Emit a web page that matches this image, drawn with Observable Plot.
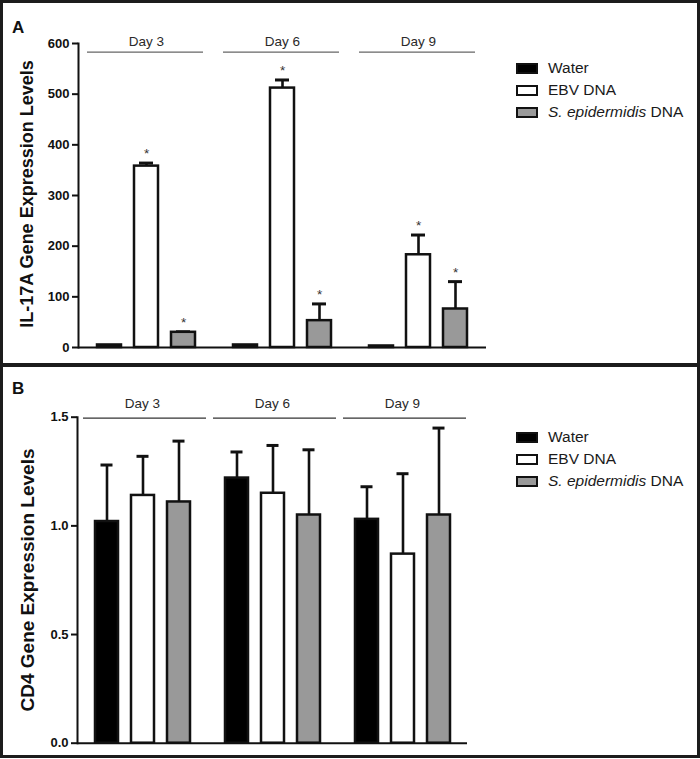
<!DOCTYPE html>
<html>
<head>
<meta charset="utf-8">
<script src="https://cdn.jsdelivr.net/npm/d3@7"></script>
<script src="https://cdn.jsdelivr.net/npm/@observablehq/plot@0.6"></script>
<style>
  body { margin: 0; background: #fff; }
  #root { position: relative; width: 700px; height: 759px; background: #fff; overflow: hidden;
          font-family: "Liberation Sans", Arial, Helvetica, sans-serif; color: #111; }
  .panel { position: absolute; left: 0; width: 700px; }
  .frame { position: absolute; left: 0; top: 0; width: 700px; height: 758px; box-sizing: border-box;
           border: 3px solid #1c1c1c; pointer-events: none; }
  .sep { position: absolute; left: 0; top: 363px; width: 700px; height: 4px; background: #1c1c1c; }
  .letter { position: absolute; font-weight: bold; font-size: 17px; line-height: 1; }
  .ytitle { position: absolute; font-weight: bold; white-space: nowrap; line-height: 1;
            transform: translate(-50%, -50%) rotate(-90deg); }
  .legend { position: absolute; left: 516px; font-size: 15.5px; color: #1a1a1a; }
  .legend .row { display: flex; align-items: center; height: 22px; }
  .legend .sw { width: 22px; height: 11px; box-sizing: border-box; border: 2.5px solid #111; margin-right: 10px; }
</style>
</head>
<body>
<div id="root">
  <div id="panelA" class="panel" style="top:0px;height:366px"></div>
  <div id="panelB" class="panel" style="top:364px;height:395px"></div>
  <div class="letter" style="left:12px;top:19px">A</div>
  <div class="letter" style="left:12px;top:380px">B</div>
  <div class="ytitle" id="titleA" style="left:27px;top:194px;font-size:18px"></div>
  <div class="ytitle" id="titleB" style="left:27px;top:580px;font-size:19px"></div>
  <div class="legend" id="legendA" style="top:57px"></div>
  <div class="legend" id="legendB" style="top:426px"></div>
  <div class="sep"></div>
  <div class="frame"></div>
</div>
<script>
// ---------- data ----------
const days = ["Day 3", "Day 6", "Day 9"];
const groups = ["Water", "EBV DNA", "S. epidermidis DNA"];

// Panel A: IL-17A gene expression levels (mean, upper SEM)
const il17Water = [5, 5, 3];
const il17WaterSem = [0, 0, 0];
const il17WaterSig = [false, false, false];
const il17Ebv = [358, 512, 183];
const il17EbvSem = [6, 16, 39];
const il17EbvSig = [true, true, true];
const il17Sepi = [30, 53, 76];
const il17SepiSem = [1, 33, 54];
const il17SepiSig = [true, true, true];
const il17Ticks = [0, 100, 200, 300, 400, 500, 600];

// Panel B: CD4 gene expression levels (mean, upper SEM)
const cd4Water = [1.02, 1.22, 1.03];
const cd4WaterSem = [0.26, 0.12, 0.15];
const cd4Ebv = [1.14, 1.15, 0.87];
const cd4EbvSem = [0.18, 0.22, 0.37];
const cd4Sepi = [1.11, 1.05, 1.05];
const cd4SepiSem = [0.28, 0.30, 0.40];
const cd4Ticks = [0, 0.5, 1.0, 1.5];

const titleA = "IL-17A Gene Expression Levels";
const titleB = "CD4 Gene Expression Levels";

// ---------- build tables ----------
function build(series) {
  const rows = [];
  series.forEach(([group, means, sems, sigs]) => {
    days.forEach((day, i) => rows.push({
      day, group, mean: means[i], upper: means[i] + sems[i], sig: sigs ? sigs[i] : false
    }));
  });
  return rows;
}
const rowsA = build([
  ["Water", il17Water, il17WaterSem, il17WaterSig],
  ["EBV DNA", il17Ebv, il17EbvSem, il17EbvSig],
  ["S. epidermidis DNA", il17Sepi, il17SepiSem, il17SepiSig]
]);
const rowsB = build([
  ["Water", cd4Water, cd4WaterSem, null],
  ["EBV DNA", cd4Ebv, cd4EbvSem, null],
  ["S. epidermidis DNA", cd4Sepi, cd4SepiSem, null]
]);

const FONT = '"Liberation Sans", Arial, Helvetica, sans-serif';
const fills = ["#000000", "#ffffff", "#999999"];

function panel(rows, o) {
  return Plot.plot({
    width: 700, height: o.height,
    marginLeft: 77, marginRight: o.marginRight, marginTop: o.marginTop, marginBottom: o.marginBottom,
    style: { fontFamily: FONT, background: "transparent", overflow: "visible", color: "#111" },
    fx: { domain: days, padding: 0, axis: null },
    x: { domain: groups, paddingInner: o.pi, paddingOuter: o.po, axis: null },
    y: { domain: o.domain, axis: null },
    color: { domain: groups, range: fills },
    marks: [
      Plot.axisY({ ticks: o.ticks, tickFormat: o.tickFormat, tickSize: 6, tickPadding: 3,
                   strokeWidth: 2, fontSize: 13, fontWeight: "bold", label: null, stroke: "#111", fill: "#111" }),
      Plot.frame({ anchor: "left", facetAnchor: "left", stroke: "#111", strokeWidth: 2 }),
      Plot.ruleY(days, { fx: d => d, y: () => o.domain[1], dy: o.bracketDy,
                         insetLeft: o.bracketL, insetRight: o.bracketR, stroke: o.bracketColor, strokeWidth: 1.3 }),
      Plot.text(days, { fx: d => d, frameAnchor: "top", lineAnchor: "middle", text: d => d, dy: o.labelDy,
                        fontSize: 13.5, fill: "#2a2a2a" }),
      Plot.ruleY(days, { fx: d => d, y: () => 0, stroke: "#111", strokeWidth: 2 }),
      Plot.ruleX(rows.filter(d => d.upper > d.mean), { fx: "day", x: "group", y1: "mean", y2: "upper", stroke: "#111", strokeWidth: 2.6 }),
      Plot.tickY(rows.filter(d => d.upper > d.mean), { fx: "day", x: "group", y: "upper", insetLeft: o.capInset, insetRight: o.capInset, stroke: "#111", strokeWidth: 3 }),
      Plot.barY(rows, { fx: "day", x: "group", y: "mean", fill: "group", stroke: "#111", strokeWidth: 2.5 }),
      Plot.text(rows.filter(d => d.sig), { fx: "day", x: "group", y: "upper", text: () => "*",
                lineAnchor: "bottom", dy: -5, fontSize: 13.5, fill: "#333" })
    ]
  });
}

document.getElementById("panelA").append(panel(rowsA, {
  height: 366, marginRight: 213, marginTop: 43, marginBottom: 19,
  domain: [0, 600], ticks: il17Ticks, tickFormat: d => String(d),
  pi: 0.36, po: 0.5, capInset: 5,
  bracketDy: 8.7, bracketL: 9, bracketR: 11, bracketColor: "#666", labelDy: -1.5
}));
document.getElementById("panelB").append(panel(rowsB, {
  height: 395, marginRight: 233, marginTop: 52.7, marginBottom: 16.3,
  domain: [0, 1.5], ticks: cd4Ticks, tickFormat: d3.format(".1f"),
  pi: 0.37, po: 0.466, capInset: 5.5,
  bracketDy: 1, bracketL: 6, bracketR: 1, bracketColor: "#333", labelDy: -14
}));

document.getElementById("titleA").textContent = titleA;
document.getElementById("titleB").textContent = titleB;

function legend(el) {
  groups.forEach((g, i) => {
    const row = document.createElement("div");
    row.className = "row";
    const sw = document.createElement("div");
    sw.className = "sw";
    sw.style.background = fills[i];
    row.append(sw);
    const label = document.createElement("span");
    if (g === "S. epidermidis DNA") {
      const it = document.createElement("i");
      it.textContent = "S. epidermidis";
      label.append(it, document.createTextNode(" DNA"));
    } else {
      label.textContent = g;
    }
    row.append(label);
    el.append(row);
  });
}
legend(document.getElementById("legendA"));
legend(document.getElementById("legendB"));
</script>
</body>
</html>
